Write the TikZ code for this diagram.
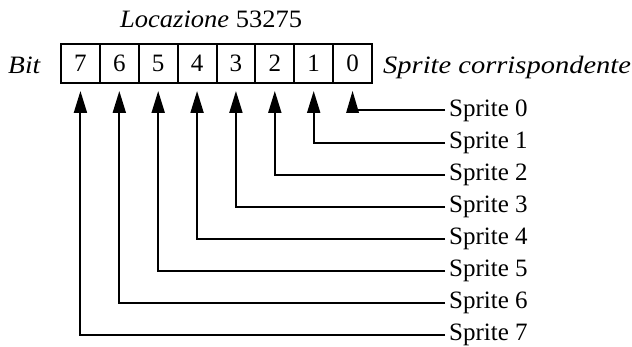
\documentclass[tikz,border=0pt]{standalone}
\usepackage{graphicx}
\usepackage{fontspec}
\setmainfont{Liberation Serif}
\usetikzlibrary{arrows.meta}
\begin{document}
\begin{tikzpicture}[x=1pt,y=-1pt,
  cell/.style={draw, line width=2pt, minimum width=38.875pt, minimum height=39pt, inner sep=0pt, font=\fontsize{25}{30}\selectfont},
  lbl/.style={anchor=west, inner sep=0pt, font=\fontsize{25}{30}\selectfont},
  ital/.style={inner sep=0pt, anchor=base west, font=\fontsize{25}{30}\selectfont\itshape},
  conn/.style={line width=2pt, -{Triangle[length=22pt,width=13pt]}, shorten >=7pt},
  wire/.style={line width=2pt}]
\useasboundingbox (0,0) rectangle (632,347);
\foreach \b in {0,...,7} {
  \pgfmathsetmacro{\cx}{61+38.875*(7-\b+0.5)}
  \node[cell] (b\b) at (\cx,63.5) {\b};
}
\node[ital] (bit) at (8,74) {\scalebox{1.1}[1]{Bit}};
\node[ital] (sc) at (383,74) {\scalebox{1.14}[1]{Sprite corrispondente}};
\node[ital, font=\fontsize{25}{30}\selectfont] (loc) at (120,28) {\scalebox{1.06}[1]{\textit{Locazione} 53275}};
\foreach \k in {0,...,7} {
  \pgfmathsetmacro{\yy}{110.5+32.1*\k}
  \node[lbl] (s\k) at (449,\yy) {Sprite \k};
  \coordinate (e\k) at (445,\yy);
}
\foreach \k in {1,...,7} {
  \draw[conn] (e\k) -| (b\k.south);
}
\draw[wire] (e0) -- (e0 -| b0.south);
\fill (b0.south) ++(0,7) -- ++(-6.5,22) -- ++(13,0) -- cycle;
\end{tikzpicture}
\end{document}
